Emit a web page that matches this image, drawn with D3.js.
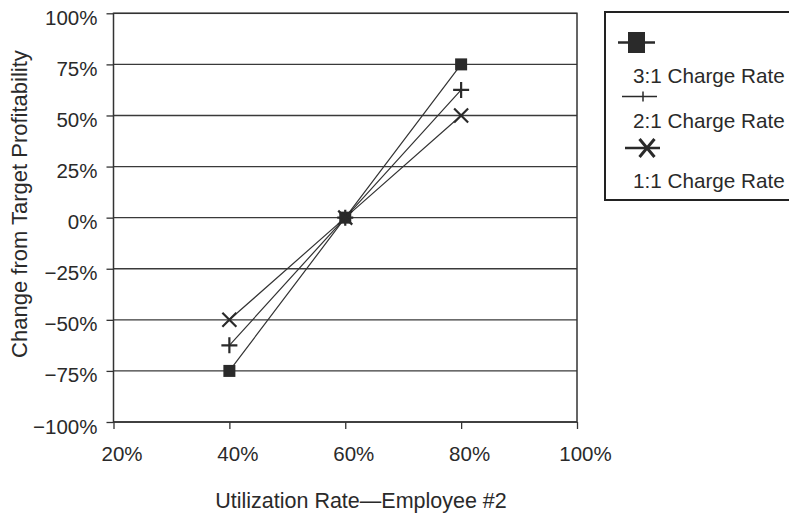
<!DOCTYPE html>
<html>
<head>
<meta charset="utf-8">
<script src="https://cdn.jsdelivr.net/npm/d3@7"></script>
<style>
  html, body { margin: 0; padding: 0; background: #fff; }
  svg { display: block; }
  text { font-family: "Liberation Sans", Arial, Helvetica, sans-serif; fill: #2a2a2a; }
</style>
</head>
<body>
<svg id="chart" width="789" height="514"></svg>
<script>
// ---- data ----
const utilization = [0.4, 0.6, 0.8];
const rate31 = [-0.75, 0, 0.75];
const rate21 = [-0.625, 0, 0.625];
const rate11 = [-0.5, 0, 0.5];
const seriesNames = ["3:1 Charge Rate", "2:1 Charge Rate", "1:1 Charge Rate"];
const xTicks = [0.2, 0.4, 0.6, 0.8, 1.0];
const yTicks = [-1, -0.75, -0.5, -0.25, 0, 0.25, 0.5, 0.75, 1];
const xTitle = "Utilization Rate\u2014Employee #2";
const yTitle = "Change from Target Profitability";

const series = [
  { name: seriesNames[0], values: rate31, marker: "square" },
  { name: seriesNames[1], values: rate21, marker: "plus" },
  { name: seriesNames[2], values: rate11, marker: "cross" }
];

(function () {
// ---- layout ----
const svg = d3.select("#chart");
const ink = "#2a2a2a";
const pLeft = 113.5, pRight = 577, pTop = 13.3, pBottom = 422;

const x = d3.scaleLinear().domain([0.2, 1.0]).range([pLeft, pRight]);
const y = d3.scaleLinear().domain([-1, 1]).range([pBottom, pTop]);
const fmt = d3.format(".0%");

// gridlines
svg.append("g").selectAll("line").data(yTicks).join("line")
  .attr("x1", pLeft).attr("x2", pRight)
  .attr("y1", d => y(d)).attr("y2", d => y(d))
  .attr("stroke", "#3a3a3a").attr("stroke-width", 1.3);

// frame
svg.append("rect")
  .attr("x", pLeft).attr("y", pTop)
  .attr("width", pRight - pLeft).attr("height", pBottom - pTop)
  .attr("fill", "none").attr("stroke", "#333").attr("stroke-width", 1.5);

// y axis
const gy = svg.append("g").attr("transform", `translate(${pLeft},0)`)
  .call(d3.axisLeft(y).tickValues(yTicks).tickFormat(fmt).tickSize(7).tickSizeOuter(0));
gy.select(".domain").remove();
gy.selectAll(".tick line").attr("stroke", "#333").attr("stroke-width", 1.3);
gy.selectAll(".tick text")
  .attr("x", -16).attr("dy", null).attr("y", 11)
  .attr("fill", ink)
  .style("font-size", "20.5px")
  .style("font-family", '"Liberation Sans", Arial, sans-serif');

// x axis
const gx = svg.append("g").attr("transform", `translate(0,${pBottom})`)
  .call(d3.axisBottom(x).tickValues(xTicks).tickFormat(fmt).tickSize(7).tickSizeOuter(0));
gx.select(".domain").remove();
gx.selectAll(".tick line").attr("stroke", "#333").attr("stroke-width", 1.3);
gx.selectAll(".tick text")
  .attr("x", 8).attr("dy", null).attr("y", 39)
  .attr("fill", ink)
  .style("font-size", "20.5px")
  .style("font-family", '"Liberation Sans", Arial, sans-serif');

// axis titles
svg.append("text")
  .attr("transform", "translate(361,508)")
  .attr("text-anchor", "middle")
  .style("font-size", "21.5px")
  .text(xTitle);
svg.append("text")
  .attr("transform", "translate(27,204) rotate(-90)")
  .attr("text-anchor", "middle")
  .style("font-size", "22px")
  .text(yTitle);

// markers
function drawMarker(g, type, cx, cy, s) {
  if (type === "square") {
    g.append("rect").attr("x", cx - s.w / 2).attr("y", cy - s.h / 2)
      .attr("width", s.w).attr("height", s.h).attr("fill", ink);
  } else if (type === "plus") {
    g.append("path")
      .attr("d", `M${cx - s.w / 2},${cy}H${cx + s.w / 2}M${cx},${cy - s.h / 2}V${cy + s.h / 2}`)
      .attr("stroke", ink).attr("stroke-width", s.sw).attr("fill", "none");
  } else {
    g.append("path")
      .attr("d", `M${cx - s.w / 2},${cy - s.h / 2}L${cx + s.w / 2},${cy + s.h / 2}M${cx - s.w / 2},${cy + s.h / 2}L${cx + s.w / 2},${cy - s.h / 2}`)
      .attr("stroke", ink).attr("stroke-width", s.sw).attr("fill", "none");
  }
}

const line = d3.line().x((d, i) => x(utilization[i])).y(d => y(d));
const plotMarkerSize = { square: { w: 12, h: 12 }, plus: { w: 16, h: 16, sw: 2.2 }, cross: { w: 14, h: 14, sw: 2.2 } };

series.forEach(s => {
  const g = svg.append("g");
  g.append("path").datum(s.values).attr("d", line)
    .attr("fill", "none").attr("stroke", "#333").attr("stroke-width", 1.2);
  s.values.forEach((v, i) => drawMarker(g, s.marker, x(utilization[i]), y(v), plotMarkerSize[s.marker]));
});

// legend
const lg = svg.append("g");
lg.append("rect").attr("x", 605).attr("y", 12).attr("width", 200).attr("height", 188)
  .attr("fill", "#fff").attr("stroke", "#222").attr("stroke-width", 2);

const legendRows = [
  { sy: 42.5, x1: 618, x2: 655, mx: 636.5, ty: 83, size: { w: 17, h: 21 } },
  { sy: 96.5, x1: 622, x2: 657, mx: 643, ty: 128, size: { w: 0, h: 10, sw: 1.5 } },
  { sy: 148, x1: 625, x2: 660, mx: 647, ty: 188, size: { w: 15, h: 18, sw: 3 } }
];
series.forEach((s, i) => {
  const r = legendRows[i];
  lg.append("line").attr("x1", r.x1).attr("x2", r.x2).attr("y1", r.sy).attr("y2", r.sy)
    .attr("stroke", ink).attr("stroke-width", i === 1 ? 1.5 : 2.5);
  drawMarker(lg, s.marker, r.mx, r.sy, r.size);
  lg.append("text")
    .attr("x", 633).attr("y", r.ty)
    .style("font-size", "20.7px")
    .text(s.name);
});
})();
</script>
</body>
</html>
